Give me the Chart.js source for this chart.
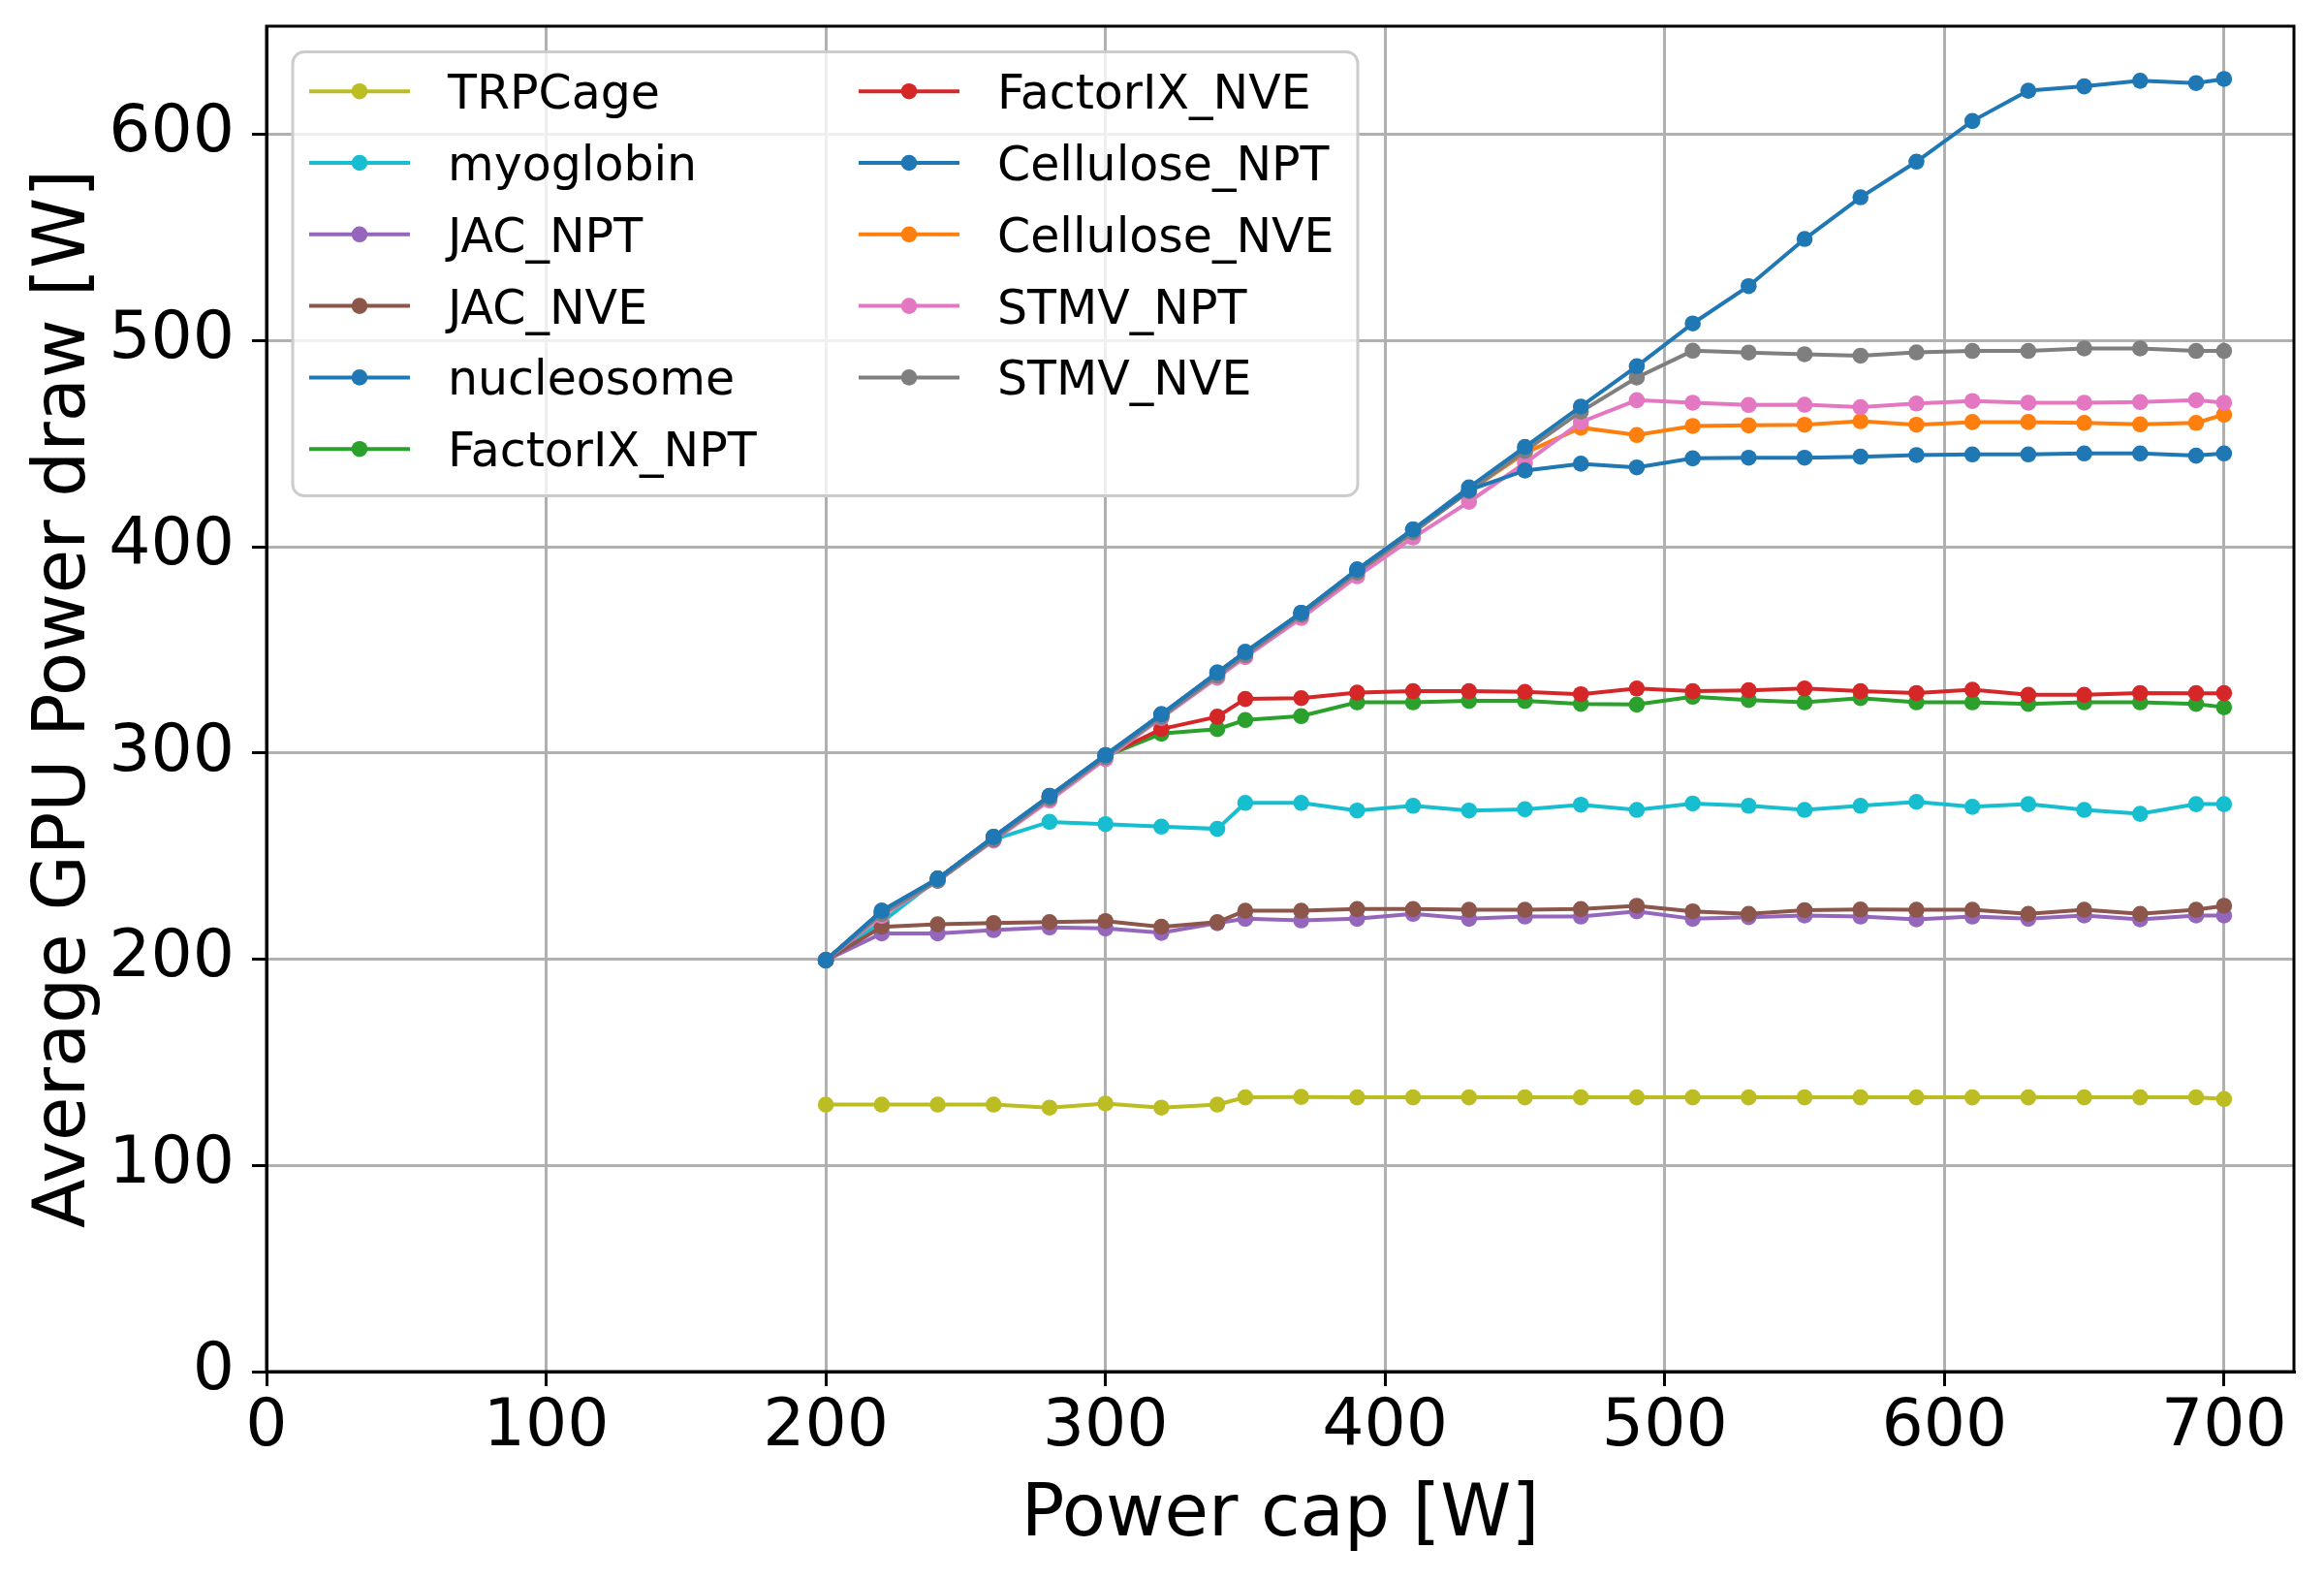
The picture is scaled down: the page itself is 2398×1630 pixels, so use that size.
<!DOCTYPE html>
<html>
<head>
<meta charset="utf-8">
<script src="https://cdn.jsdelivr.net/npm/chart.js@4"></script>
<style>
  html, body { margin: 0; padding: 0; background: #fff; }
  canvas { display: block; }
</style>
</head>
<body>
<canvas id="chart" width="2398" height="1630"></canvas>
<script>
// Power cap settings (x axis), in W
const powerCap = [200, 220, 240, 260, 280, 300, 320, 340, 350, 370, 390, 410, 430, 450,
                  470, 490, 510, 530, 550, 570, 590, 610, 630, 650, 670, 690, 700];

// Average GPU power draw per benchmark, in W
const trpcage      = [129.5, 129.5, 129.5, 129.5, 128, 130, 128, 129.5, 133, 133.2, 133, 133, 133, 133,
                      133, 133, 133, 133, 133, 133, 133, 133, 133, 133, 133, 133, 132.2];
const myoglobin    = [199.5, 218, 239, 258, 266.6, 265.5, 264.3, 263.2, 275.8, 275.8, 272.1, 274.4, 272.1, 272.7,
                      274.9, 272.4, 275.5, 274.4, 272.4, 274.4, 276.3, 273.9, 275.2, 272.4, 270.5, 275.2, 275.2];
const jacNpt       = [199.5, 212.5, 212.5, 214.1, 215.4, 214.9, 212.8, 217.5, 219.6, 218.8, 219.6, 222, 219.6, 220.7,
                      220.7, 223.2, 219.6, 220.4, 221.2, 220.7, 219.3, 220.7, 219.6, 221.2, 219.3, 221.2, 221.2];
const jacNve       = [199.5, 215.7, 216.9, 217.5, 218, 218.5, 215.7, 218, 223.5, 223.5, 224.3, 224.3, 224, 224,
                      224.3, 225.9, 223.2, 222, 223.8, 224.1, 224, 224, 222, 224, 222, 224, 225.9];
const nucleosome   = [199.5, 223.5, 239, 259.3, 279.2, 299, 318.8, 339, 349, 368, 389, 408.4, 427.5, 437,
                      440.3, 438.5, 442.9, 443.2, 443.2, 443.7, 444.5, 444.8, 444.8, 445.3, 445.3, 444.2, 445.3];
const factorIxNpt  = [199.5, 222, 239, 259, 278.5, 298.5, 309.4, 311.6, 316, 317.9, 324.6, 324.6, 325.3, 325.3,
                      323.8, 323.5, 327.3, 325.7, 324.6, 326.6, 324.6, 324.6, 323.8, 324.6, 324.6, 323.8, 322.2];
const factorIxNve  = [199.5, 222, 239, 259, 278.5, 298.5, 311.6, 317.6, 326.2, 326.6, 329.3, 330, 330, 329.6,
                      328.5, 331.3, 330, 330.4, 331.3, 330, 329.1, 330.7, 328.2, 328.2, 329.1, 329, 329];
const celluloseNpt = [199.5, 223.5, 239, 259.3, 279.2, 299, 318.8, 339, 349, 368, 389, 408.4, 428.8, 448.4,
                      468, 487.6, 508.3, 526.4, 549.3, 569.5, 586.8, 606.5, 621.2, 623.3, 626, 624.9, 626.9];
const celluloseNve = [199.5, 222, 238.5, 258.5, 278.5, 298.5, 318, 338, 348, 367.5, 387.5, 407, 427, 445.5,
                      457.8, 454.2, 458.6, 458.9, 459.2, 460.9, 459.2, 460.5, 460.5, 460.1, 459.4, 460.1, 464.1];
const stmvNpt      = [199.5, 221, 238, 257.5, 277, 297, 317, 336.5, 346.5, 365.5, 385.7, 404.5, 421.8, 440.6,
                      460.5, 471.1, 469.9, 468.8, 468.9, 467.7, 469.5, 470.7, 469.9, 469.9, 470.2, 471.1, 469.9];
const stmvNve      = [199.5, 222, 238, 258, 278, 298, 317.5, 337.5, 347.5, 367, 387.5, 407, 427, 446.5,
                      465.6, 482.1, 495.1, 494.2, 493.4, 492.7, 494.3, 495, 495, 496.2, 496.2, 495, 495];

const labels = ['TRPCage', 'myoglobin', 'JAC_NPT', 'JAC_NVE', 'nucleosome', 'FactorIX_NPT',
                'FactorIX_NVE', 'Cellulose_NPT', 'Cellulose_NVE', 'STMV_NPT', 'STMV_NVE'];
const values = [trpcage, myoglobin, jacNpt, jacNve, nucleosome, factorIxNpt,
                factorIxNve, celluloseNpt, celluloseNve, stmvNpt, stmvNve];
const colors = ['#bcbd22', '#17becf', '#9467bd', '#8c564b', '#1f77b4', '#2ca02c',
                '#d62728', '#1f77b4', '#ff7f0e', '#e377c2', '#7f7f7f'];
// these two sit on top of the others where the curves overlap
const drawnLast = ['nucleosome', 'Cellulose_NPT'];

const FONT = "'DejaVu Sans', sans-serif";
const LINE_W = 4;
const MARKER_R = 8.3;

// later series drawn on top (lower order = drawn later)
const datasets = labels.map((label, i) => ({
    label: label,
    data: powerCap.map((x, j) => ({ x: x, y: values[i][j] })),
    borderColor: colors[i],
    backgroundColor: colors[i],
    pointBackgroundColor: colors[i],
    borderWidth: LINE_W,
    pointRadius: MARKER_R,
    pointHoverRadius: MARKER_R,
    pointBorderWidth: 0,
    tension: 0,
    order: drawnLast.includes(label) ? -1 - drawnLast.indexOf(label) : labels.length - i
}));

// box around the plot area (top and right spines)
const framePlugin = {
    id: 'frame',
    afterDatasetsDraw(chart) {
        const { ctx, chartArea: a } = chart;
        ctx.save();
        ctx.strokeStyle = '#000';
        ctx.lineWidth = 3;
        ctx.strokeRect(a.left, a.top, a.right - a.left, a.bottom - a.top);
        ctx.restore();
    }
};

// two-column legend in the upper left, filled column first
const legendPlugin = {
    id: 'mplLegend',
    afterDraw(chart) {
        const { ctx, chartArea: a } = chart;
        const boxX = a.left + 27, boxY = a.top + 26.5;
        const boxW = 1099, boxH = 458;
        const rowY0 = boxY + 40.7, rowStep = 73.8;
        const colX = [boxX + 17, boxX + 584];
        const handleLen = 104, textPad = 39;
        const perCol = 6;

        ctx.save();
        ctx.beginPath();
        ctx.roundRect(boxX, boxY, boxW, boxH, 12);
        ctx.fillStyle = 'rgba(255,255,255,0.8)';
        ctx.fill();
        ctx.strokeStyle = '#cccccc';
        ctx.lineWidth = 3;
        ctx.stroke();

        ctx.font = '49px ' + FONT;
        ctx.textBaseline = 'alphabetic';
        ctx.textAlign = 'left';
        chart.data.datasets.forEach((ds, i) => {
            const col = Math.floor(i / perCol);
            const row = i % perCol;
            const x = colX[col];
            const y = rowY0 + row * rowStep;
            ctx.strokeStyle = ds.borderColor;
            ctx.lineWidth = LINE_W;
            ctx.beginPath();
            ctx.moveTo(x, y);
            ctx.lineTo(x + handleLen, y);
            ctx.stroke();
            ctx.fillStyle = ds.borderColor;
            ctx.beginPath();
            ctx.arc(x + handleLen / 2, y, MARKER_R, 0, Math.PI * 2);
            ctx.fill();
            ctx.fillStyle = '#000';
            ctx.fillText(ds.label, x + handleLen + textPad, y + 18);
        });
        ctx.restore();
    }
};

const keepHundreds = scale => {
    scale.ticks = scale.ticks.filter(t => Math.abs(t.value % 100) < 1e-6);
};

// fixed axis sizes, no extra label overhang padding
const fitX = scale => {
    scale.height = 215;
    scale.paddingLeft = 0;
    scale.paddingRight = 0;
};
const fitY = scale => {
    scale.width = 275;
    scale.paddingTop = 0;
    scale.paddingBottom = 0;
};

new Chart(document.getElementById('chart'), {
    type: 'line',
    data: { datasets: datasets },
    options: {
        responsive: false,
        animation: false,
        devicePixelRatio: 1,
        layout: { padding: { top: 27, right: 31, left: 0, bottom: 0 } },
        plugins: {
            legend: { display: false },
            tooltip: { enabled: false }
        },
        scales: {
            x: {
                type: 'linear',
                min: 0,
                max: 725,
                afterBuildTicks: keepHundreds,
                afterFit: fitX,
                ticks: {
                    stepSize: 100,
                    includeBounds: false,
                    autoSkip: false,
                    maxRotation: 0,
                    color: '#000',
                    padding: 3,
                    font: { family: FONT, size: 68 }
                },
                grid: { color: '#b0b0b0', lineWidth: 3, tickColor: '#000', tickWidth: 3, tickLength: 15 },
                border: { display: true, color: '#000', width: 3 },
                title: {
                    display: true,
                    text: 'Power cap [W]',
                    color: '#000',
                    font: { family: FONT, size: 74 },
                    padding: { top: 0, bottom: 21 }
                }
            },
            y: {
                type: 'linear',
                min: 0,
                max: 652.5,
                afterBuildTicks: keepHundreds,
                afterFit: fitY,
                ticks: {
                    stepSize: 100,
                    includeBounds: false,
                    color: '#000',
                    padding: 18,
                    font: { family: FONT, size: 68 }
                },
                grid: { color: '#b0b0b0', lineWidth: 3, tickColor: '#000', tickWidth: 3, tickLength: 15 },
                border: { display: true, color: '#000', width: 3 },
                title: {
                    display: true,
                    text: 'Average GPU Power draw [W]',
                    color: '#000',
                    font: { family: FONT, size: 74 },
                    padding: { top: 23, bottom: 0 }
                }
            }
        }
    },
    plugins: [framePlugin, legendPlugin]
});
</script>
</body>
</html>
